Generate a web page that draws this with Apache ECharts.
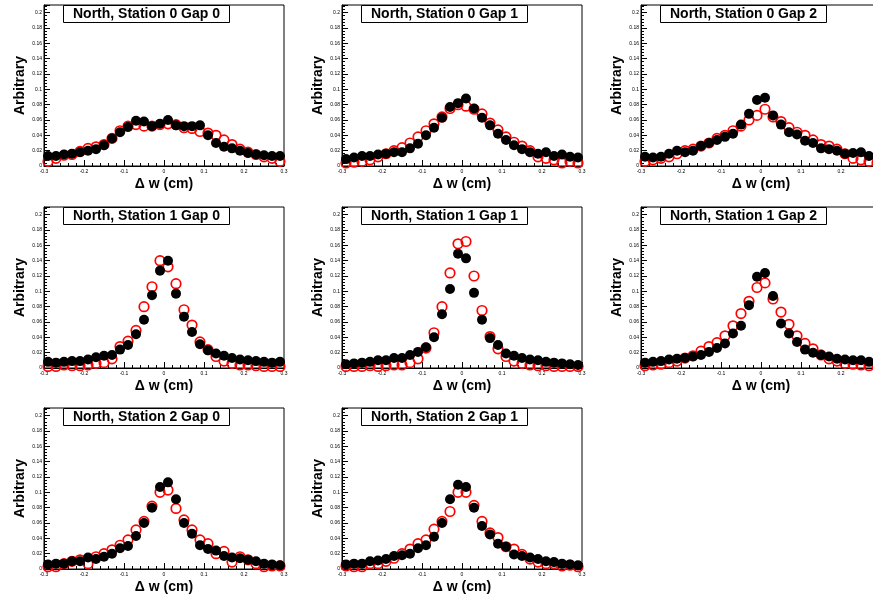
<!DOCTYPE html>
<html><head><meta charset="utf-8">
<script src="https://cdn.jsdelivr.net/npm/echarts@6/dist/echarts.min.js"></script>
<style>html,body{margin:0;padding:0;background:#fff}#c{width:873px;height:600px}</style>
</head><body><div id="c"></div>
<script>
// ---- data ----
const binCenters = [-0.29,-0.27,-0.25,-0.23,-0.21,-0.19,-0.17,-0.15,-0.13,-0.11,-0.09,-0.07,-0.05,-0.03,-0.01,
                     0.01, 0.03, 0.05, 0.07, 0.09, 0.11, 0.13, 0.15, 0.17, 0.19, 0.21, 0.23, 0.25, 0.27, 0.29];
const panelTitles = ["North, Station 0 Gap 0","North, Station 0 Gap 1","North, Station 0 Gap 2",
                     "North, Station 1 Gap 0","North, Station 1 Gap 1","North, Station 1 Gap 2",
                     "North, Station 2 Gap 0","North, Station 2 Gap 1"];
const xTickValues = [-0.3,-0.2,-0.1,0,0.1,0.2,0.3];
const yTickLabels = ["0","0.02","0.04","0.06","0.08","0.1","0.12","0.14","0.16","0.18","0.2"];
const xTitle = "\u0394 w (cm)";
const yTitle = "Arbitrary";

const s0g0Black = [0.013,0.013,0.015,0.016,0.018,0.020,0.022,0.027,0.036,0.044,0.051,0.059,0.058,0.052,0.055,
                   0.060,0.053,0.052,0.052,0.053,0.040,0.030,0.025,0.023,0.020,0.017,0.015,0.014,0.013,0.013];
const s0g0Red   = [0.006,0.010,0.014,0.015,0.019,0.023,0.025,0.028,0.036,0.046,0.052,0.054,0.052,0.052,0.054,
                   0.055,0.054,0.050,0.049,0.045,0.043,0.040,0.034,0.028,0.022,0.018,0.015,0.012,0.010,0.006];
const s0g1Black = [0.009,0.011,0.013,0.013,0.015,0.016,0.018,0.018,0.023,0.029,0.040,0.050,0.063,0.077,0.082,
                   0.088,0.075,0.063,0.053,0.042,0.034,0.027,0.022,0.018,0.016,0.018,0.013,0.015,0.012,0.011];
const s0g1Red   = [0.004,0.005,0.006,0.008,0.012,0.016,0.020,0.024,0.030,0.038,0.046,0.055,0.064,0.075,0.080,
                   0.078,0.074,0.068,0.056,0.047,0.038,0.031,0.026,0.020,0.012,0.010,0.008,0.004,0.006,0.004];
const s0g2Black = [0.012,0.011,0.012,0.016,0.020,0.018,0.020,0.026,0.030,0.034,0.038,0.042,0.054,0.068,0.086,
                   0.089,0.066,0.054,0.044,0.041,0.033,0.030,0.023,0.022,0.020,0.016,0.017,0.018,0.013,0.012];
const s0g2Red   = [0.006,0.008,0.010,0.012,0.016,0.020,0.022,0.026,0.030,0.036,0.040,0.046,0.052,0.060,0.066,
                   0.074,0.064,0.058,0.050,0.044,0.040,0.034,0.028,0.026,0.022,0.016,0.010,0.008,0.006,0.004];
const s1g0Black = [0.008,0.007,0.008,0.009,0.009,0.011,0.014,0.016,0.017,0.024,0.030,0.044,0.063,0.095,0.127,
                   0.140,0.097,0.067,0.047,0.031,0.023,0.019,0.016,0.013,0.011,0.010,0.009,0.008,0.007,0.008];
const s1g0Red   = [0.002,0.002,0.004,0.003,0.003,0.004,0.006,0.007,0.012,0.028,0.035,0.049,0.080,0.106,0.140,
                   0.132,0.110,0.076,0.056,0.034,0.024,0.015,0.009,0.006,0.004,0.004,0.003,0.002,0.002,0.002];
const s1g1Black = [0.005,0.006,0.007,0.008,0.010,0.010,0.013,0.013,0.017,0.021,0.027,0.040,0.070,0.103,0.149,
                   0.143,0.098,0.063,0.039,0.030,0.019,0.016,0.013,0.011,0.010,0.008,0.007,0.006,0.005,0.004];
const s1g1Red   = [0.002,0.002,0.002,0.003,0.002,0.003,0.004,0.004,0.007,0.012,0.026,0.046,0.080,0.124,0.162,
                   0.165,0.120,0.075,0.041,0.025,0.015,0.009,0.006,0.004,0.003,0.003,0.002,0.002,0.002,0.002];
const s1g2Black = [0.007,0.008,0.009,0.011,0.012,0.013,0.015,0.017,0.021,0.026,0.032,0.045,0.055,0.082,0.119,
                   0.124,0.094,0.058,0.045,0.034,0.024,0.020,0.017,0.015,0.012,0.011,0.010,0.010,0.008,0.008];
const s1g2Red   = [0.003,0.004,0.005,0.007,0.009,0.013,0.016,0.022,0.028,0.033,0.042,0.055,0.071,0.087,0.105,
                   0.111,0.090,0.073,0.057,0.042,0.032,0.025,0.017,0.012,0.009,0.006,0.005,0.004,0.003,0.003];
const s2g0Black = [0.006,0.007,0.007,0.010,0.010,0.015,0.013,0.016,0.020,0.027,0.030,0.043,0.060,0.080,0.107,
                   0.113,0.091,0.060,0.046,0.031,0.026,0.024,0.017,0.015,0.014,0.012,0.010,0.007,0.006,0.005];
const s2g0Red   = [0.003,0.003,0.007,0.010,0.012,0.007,0.016,0.020,0.025,0.031,0.038,0.051,0.062,0.082,0.100,
                   0.103,0.079,0.064,0.051,0.038,0.033,0.020,0.023,0.009,0.016,0.012,0.007,0.003,0.004,0.004];
const s2g1Black = [0.006,0.007,0.007,0.010,0.011,0.013,0.017,0.018,0.020,0.027,0.031,0.042,0.060,0.091,0.110,
                   0.107,0.080,0.056,0.045,0.033,0.029,0.019,0.017,0.015,0.013,0.010,0.009,0.007,0.006,0.005];
const s2g1Red   = [0.004,0.003,0.003,0.007,0.007,0.010,0.014,0.020,0.026,0.033,0.038,0.052,0.062,0.075,0.100,
                   0.100,0.083,0.062,0.047,0.041,0.029,0.026,0.019,0.013,0.009,0.007,0.007,0.004,0.005,0.003];

const blackSets = [s0g0Black,s0g1Black,s0g2Black,s1g0Black,s1g1Black,s1g2Black,s2g0Black,s2g1Black];
const redSets   = [s0g0Red,s0g1Red,s0g2Red,s1g0Red,s1g1Red,s1g2Red,s2g0Red,s2g1Red];

// ---- layout ----
const colLeft = [44, 342, 641];
const rowTop = [5, 207, 408];
const panelW = 240, panelH = 161;
const FONT = "'Liberation Sans', Arial, Helvetica, sans-serif";

const grids = [], xAxes = [], yAxes = [], series = [], titles = [];
for (let i = 0; i < 8; i++) {
  const col = i % 3, row = Math.floor(i / 3);
  grids.push({left: colLeft[col], top: rowTop[row], width: panelW, height: panelH,
    outerBoundsMode: 'none', containLabel: false,
    show: true, borderColor: '#000', borderWidth: 1, backgroundColor: 'rgba(0,0,0,0)'});
  xAxes.push({type: 'value', gridIndex: i, min: xTickValues[0], max: xTickValues[xTickValues.length-1], interval: 0.1,
    axisLine: {show: true, onZero: false, lineStyle: {color: '#000', width: 1}},
    axisTick: {show: true, inside: true, length: 6, lineStyle: {color: '#000', width: 1}},
    minorTick: {show: true, splitNumber: 5, length: 3, lineStyle: {color: '#000', width: 1}},
    splitLine: {show: false},
    axisLabel: {fontSize: 5, color: '#000', margin: 3, fontFamily: FONT,
      formatter: v => String(Math.round(v * 10) / 10)},
    name: xTitle, nameLocation: 'middle', nameGap: 11,
    nameTextStyle: {fontSize: 14, fontWeight: 'bold', color: '#000', fontFamily: FONT}});
  yAxes.push({type: 'value', gridIndex: i, min: 0, max: 0.21, interval: 0.02,
    axisLine: {show: true, onZero: false, lineStyle: {color: '#000', width: 1}},
    axisTick: {show: true, inside: true, length: 6, lineStyle: {color: '#000', width: 1}},
    minorTick: {show: true, splitNumber: 5, length: 3, lineStyle: {color: '#000', width: 1}},
    splitLine: {show: false},
    axisLabel: {fontSize: 5, color: '#000', margin: 2, fontFamily: FONT,
      formatter: v => { const k = Math.round(v / 0.02); return (Math.abs(v - k * 0.02) < 1e-6 && k <= 10) ? yTickLabels[k] : ''; }},
    name: yTitle, nameLocation: 'middle', nameGap: 17, nameRotate: 90,
    nameTextStyle: {fontSize: 14, fontWeight: 'bold', color: '#000', fontFamily: FONT}});
  series.push({type: 'scatter', xAxisIndex: i, yAxisIndex: i, symbol: 'circle', symbolSize: 9.5,
    data: binCenters.map((x, k) => [x, redSets[i][k]]), z: 2,
    itemStyle: {color: 'rgba(0,0,0,0)', borderColor: '#ff0000', borderWidth: 1.7, opacity: 1}, silent: true});
  series.push({type: 'scatter', xAxisIndex: i, yAxisIndex: i, symbol: 'circle', symbolSize: 10,
    data: binCenters.map((x, k) => [x, blackSets[i][k]]), z: 3,
    itemStyle: {color: '#000', opacity: 1}, silent: true});
  titles.push({text: panelTitles[i], left: colLeft[col] + 19, top: rowTop[row],
    padding: [1, 10, 1, 10], borderColor: '#000', borderWidth: 1, backgroundColor: '#fff',
    textStyle: {fontSize: 14, fontWeight: 'bold', color: '#000', fontFamily: FONT, lineHeight: 16}});
}

const chart = echarts.init(document.getElementById('c'), null, {renderer: 'canvas'});
chart.setOption({animation: false, backgroundColor: '#fff', title: titles, grid: grids,
  xAxis: xAxes, yAxis: yAxes, series: series});
</script></body></html>
